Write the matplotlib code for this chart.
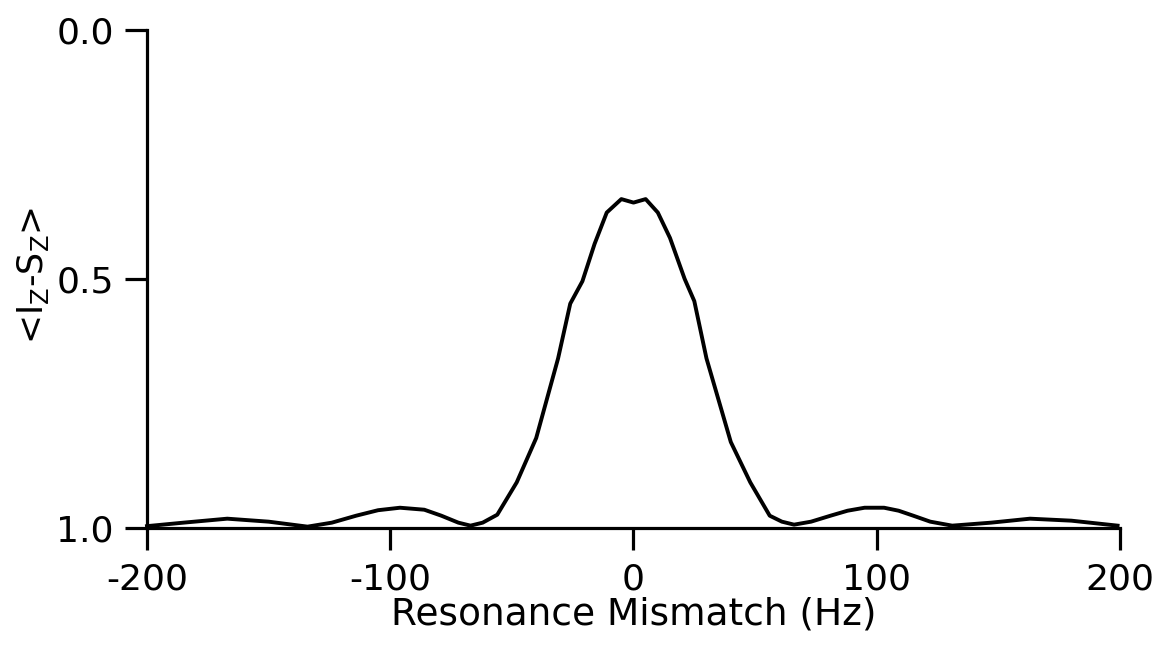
"""Resonance mismatch curve: <Iz-Sz> versus mismatch in Hz"""

import matplotlib
matplotlib.use("Agg")
import matplotlib.pyplot as plt

# values
mismatch_hz = [-200, -185, -167, -150, -134, -124, -114, -105, -96, -86, -79,
               -72, -67, -62, -56, -48, -40, -31, -26, -21, -16, -11, -5, 0,
               5, 10, 15, 21, 25, 30, 40, 48, 56, 61, 66, 73, 81, 88, 95, 103,
               109, 115, 122, 131, 147, 163, 180, 199]
iz_sz = [0.997, 0.990, 0.982, 0.988, 0.998, 0.990, 0.976, 0.965, 0.960, 0.964,
         0.976, 0.990, 0.996, 0.990, 0.974, 0.909, 0.820, 0.660, 0.550, 0.505,
         0.430, 0.367, 0.340, 0.347, 0.340, 0.367, 0.418, 0.500, 0.545, 0.660,
         0.828, 0.909, 0.976, 0.988, 0.994, 0.988, 0.976, 0.966, 0.960, 0.960,
         0.966, 0.976, 0.988, 0.996, 0.990, 0.982, 0.986, 0.996]
x_ticks = [-200, -100, 0, 100, 200]
y_ticks = [0.0, 0.5, 1.0]
y_tick_labels = ["0.0", "0.5", "1.0"]

plt.rcParams['font.family'] = ['DejaVu Sans']
plt.rcParams['mathtext.default'] = 'regular'
plt.rcParams['axes.unicode_minus'] = False

fig = plt.figure(figsize=(11.61, 6.49), dpi=100)
ax = fig.add_axes([0.1266, 0.187, 0.8381, 0.767])

ax.plot(mismatch_hz, iz_sz, color='black', lw=2.8, clip_on=False,
        solid_joinstyle='round')

ax.set_xlim(-200, 200)
ax.set_ylim(1.0, 0.0)
ax.set_xticks(x_ticks)
ax.set_yticks(y_ticks)
ax.set_yticklabels(y_tick_labels)

ax.spines['top'].set_visible(False)
ax.spines['right'].set_visible(False)
for side in ['left', 'bottom']:
    ax.spines[side].set_linewidth(2.3)

ax.tick_params(axis='both', direction='out', length=16, width=2.3,
               labelsize=26, colors='black')
ax.tick_params(axis='x', pad=9)
ax.tick_params(axis='y', pad=8)

ax.set_xlabel('Resonance Mismatch (Hz)', fontsize=27, labelpad=0)
fig.text(0.028, 0.576, r'<I$_Z$-S$_Z$>', rotation=90, fontsize=25,
         ha='center', va='center')

fig.savefig('out.png', dpi=100)
